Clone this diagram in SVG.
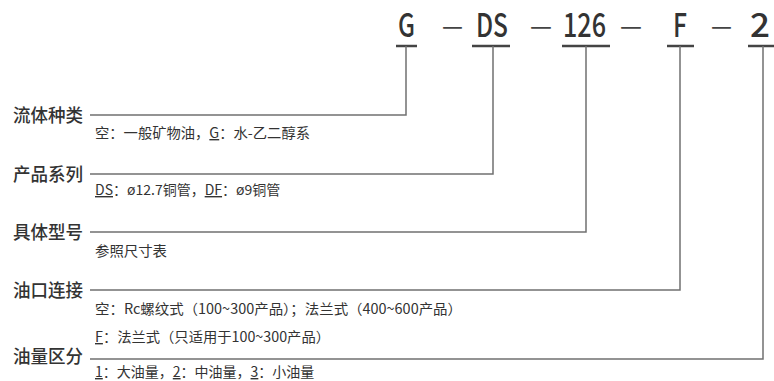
<svg xmlns="http://www.w3.org/2000/svg" width="774" height="381" viewBox="0 0 774 381">
<style>
.code{font-family:"Noto Sans CJK SC","Noto Sans",sans-serif;font-size:33px;font-weight:500;fill:#333;}
.dash{font-family:"Noto Sans CJK SC","Noto Sans",sans-serif;font-size:22px;font-weight:500;fill:#444;}
.lbl{font-family:"Noto Sans CJK SC",sans-serif;font-size:18px;font-weight:500;fill:#333;}
.sub{font-family:"Noto Sans CJK SC",sans-serif;font-size:14px;fill:#333;}
.u{text-decoration:underline;}
.ln{fill:none;stroke:#707070;stroke-width:1.5;}
.bar{stroke:#444;stroke-width:2.5;}
</style>
<rect width="774" height="381" fill="#fff"/>
<g id="code">
<text class="code" x="398" y="37" textLength="17" lengthAdjust="spacingAndGlyphs">G</text>
<text class="dash" x="442" y="34" textLength="21" lengthAdjust="spacingAndGlyphs">—</text>
<text class="code" x="476" y="37" textLength="32" lengthAdjust="spacingAndGlyphs">DS</text>
<text class="dash" x="530" y="34" textLength="22" lengthAdjust="spacingAndGlyphs">—</text>
<text class="code" x="563" y="37" textLength="43" lengthAdjust="spacingAndGlyphs">126</text>
<text class="dash" x="620" y="34" textLength="22" lengthAdjust="spacingAndGlyphs">—</text>
<text class="code" x="673" y="37" textLength="14" lengthAdjust="spacingAndGlyphs">F</text>
<text class="dash" x="711" y="34" textLength="21" lengthAdjust="spacingAndGlyphs">—</text>
<text class="code" x="750" y="37" textLength="20" lengthAdjust="spacingAndGlyphs">2</text>
</g>
<g id="connectors">
<line class="bar" x1="396" y1="46" x2="417" y2="46"/>
<line class="bar" x1="472" y1="46" x2="510" y2="46"/>
<line class="bar" x1="562" y1="46" x2="610" y2="46"/>
<line class="bar" x1="667" y1="46" x2="694" y2="46"/>
<line class="bar" x1="748" y1="46" x2="774" y2="46"/>
<polyline class="ln" points="406,46 406,115 90,115"/>
<polyline class="ln" points="493,46 493,174 90,174"/>
<polyline class="ln" points="586,46 586,232 90,232"/>
<polyline class="ln" points="680,46 680,290 90,290"/>
<polyline class="ln" points="763,46 763,359 90,359"/>
</g>
<g id="row-fluid">
<text class="lbl" x="13" y="122" textLength="70" lengthAdjust="spacingAndGlyphs">流体种类</text>
<text class="sub" x="95" y="138" textLength="215" lengthAdjust="spacingAndGlyphs">空：一般矿物油，<tspan class="u">G</tspan>：水-乙二醇系</text>
</g>
<g id="row-series">
<text class="lbl" x="13" y="181" textLength="70" lengthAdjust="spacingAndGlyphs">产品系列</text>
<text class="sub" x="95" y="195"><tspan class="u">DS</tspan>：ø12.7铜管，<tspan class="u">DF</tspan>：ø9铜管</text>
</g>
<g id="row-model">
<text class="lbl" x="13" y="239" textLength="70" lengthAdjust="spacingAndGlyphs">具体型号</text>
<text class="sub" x="95" y="256" textLength="72" lengthAdjust="spacingAndGlyphs">参照尺寸表</text>
</g>
<g id="row-port">
<text class="lbl" x="13" y="297" textLength="70" lengthAdjust="spacingAndGlyphs">油口连接</text>
<text class="sub" x="95" y="314" textLength="367" lengthAdjust="spacingAndGlyphs">空：Rc螺纹式（100~300产品）；法兰式（400~600产品）</text>
<text class="sub" x="95" y="342" textLength="235" lengthAdjust="spacingAndGlyphs"><tspan class="u">F</tspan>：法兰式（只适用于100~300产品）</text>
</g>
<g id="row-volume">
<text class="lbl" x="13" y="363" textLength="70" lengthAdjust="spacingAndGlyphs">油量区分</text>
<text class="sub" x="95" y="377"><tspan class="u">1</tspan>：大油量，<tspan class="u">2</tspan>：中油量，<tspan class="u">3</tspan>：小油量</text>
</g>
</svg>
